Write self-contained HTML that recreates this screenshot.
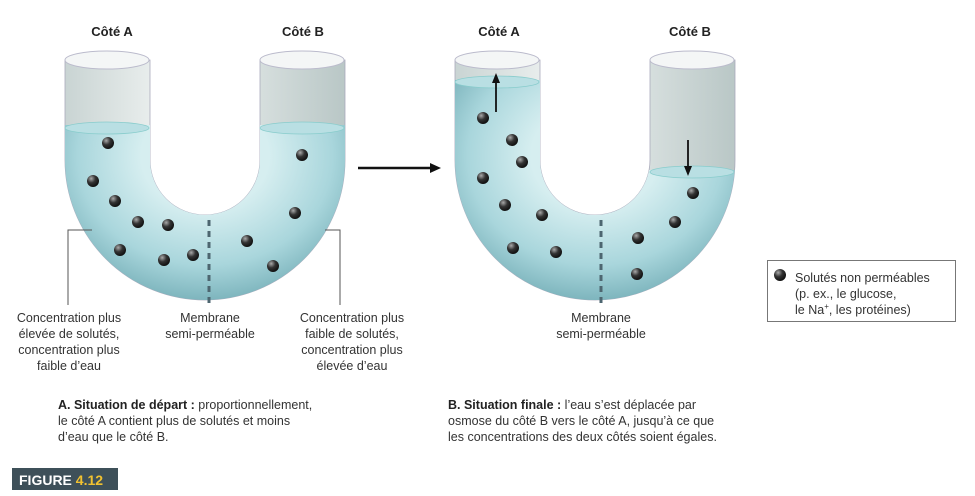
<!DOCTYPE html>
<html><head><meta charset="utf-8"><style>
body{margin:0;background:#fff;width:975px;height:491px;overflow:hidden;font-family:"Liberation Sans",sans-serif}
</style></head><body>
<svg width="975" height="491" viewBox="0 0 975 491" xmlns="http://www.w3.org/2000/svg" font-family="Liberation Sans, sans-serif">
<defs>
<linearGradient id="glass" x1="0" x2="1"><stop offset="0" stop-color="#c9d4d3"/><stop offset="0.4" stop-color="#f2f5f4"/><stop offset="1" stop-color="#b9c7c6"/></linearGradient>
<radialGradient id="water" cx="0.5" cy="0.4" r="0.65"><stop offset="0.35" stop-color="#d6eef0"/><stop offset="0.7" stop-color="#a9d6dc"/><stop offset="1" stop-color="#6faab3"/></radialGradient>
<radialGradient id="ball" cx="0.35" cy="0.3" r="0.7"><stop offset="0" stop-color="#aaa"/><stop offset="0.5" stop-color="#333"/><stop offset="1" stop-color="#111"/></radialGradient>
<clipPath id="cA"><rect x="0" y="125" width="205" height="300"/><rect x="205" y="125" width="200" height="300"/></clipPath>
<clipPath id="cB"><rect x="390" y="80" width="205" height="300"/><rect x="595" y="170" width="200" height="300"/></clipPath>
</defs>
<text x="112" y="36" font-size="13" font-weight="bold" text-anchor="middle" fill="#222">Côté A</text>
<text x="303" y="36" font-size="13" font-weight="bold" text-anchor="middle" fill="#222">Côté B</text>
<text x="499" y="36" font-size="13" font-weight="bold" text-anchor="middle" fill="#222">Côté A</text>
<text x="690" y="36" font-size="13" font-weight="bold" text-anchor="middle" fill="#222">Côté B</text>
<!-- left U -->
<path d="M65,60 V160 A140,140 0 0 0 345,160 V60 H260 V160 A55,55 0 0 1 150,160 V60 Z" fill="url(#glass)" stroke="#aab" stroke-width="0.8"/>
<ellipse cx="107" cy="60" rx="42" ry="9" fill="#f4f6f6" stroke="#bbc"/>
<ellipse cx="302" cy="60" rx="42" ry="9" fill="#f4f6f6" stroke="#bbc"/>
<path d="M65,60 V160 A140,140 0 0 0 345,160 V60 H260 V160 A55,55 0 0 1 150,160 V60 Z" fill="url(#water)" clip-path="url(#cA)"/>
<ellipse cx="107" cy="128" rx="42" ry="6" fill="#b9dfe3" stroke="#8cc" stroke-width="0.8"/>
<ellipse cx="302" cy="128" rx="42" ry="6" fill="#b9dfe3" stroke="#8cc" stroke-width="0.8"/>
<line x1="209" y1="220" x2="209" y2="305" stroke="#4d6670" stroke-width="3" stroke-dasharray="6,5"/>
<g fill="url(#ball)">
<circle cx="108" cy="143" r="6"/><circle cx="93" cy="181" r="6"/><circle cx="115" cy="201" r="6"/><circle cx="138" cy="222" r="6"/><circle cx="168" cy="225" r="6"/><circle cx="120" cy="250" r="6"/><circle cx="164" cy="260" r="6"/><circle cx="193" cy="255" r="6"/><circle cx="247" cy="241" r="6"/><circle cx="295" cy="213" r="6"/><circle cx="302" cy="155" r="6"/><circle cx="273" cy="266" r="6"/>
</g>
<polyline points="92,230 68,230 68,305" fill="none" stroke="#555" stroke-width="1"/>
<polyline points="325,230 340,230 340,305" fill="none" stroke="#555" stroke-width="1"/>
<!-- arrow -->
<line x1="358" y1="168" x2="432" y2="168" stroke="#111" stroke-width="2.5"/>
<polygon points="441,168 430,163 430,173" fill="#111"/>
<!-- right U -->
<path d="M455,60 V160 A140,140 0 0 0 735,160 V60 H650 V160 A55,55 0 0 1 540,160 V60 Z" fill="url(#glass)" stroke="#aab" stroke-width="0.8"/>
<ellipse cx="497" cy="60" rx="42" ry="9" fill="#f4f6f6" stroke="#bbc"/>
<ellipse cx="692" cy="60" rx="42" ry="9" fill="#f4f6f6" stroke="#bbc"/>
<path d="M455,60 V160 A140,140 0 0 0 735,160 V60 H650 V160 A55,55 0 0 1 540,160 V60 Z" fill="url(#water)" clip-path="url(#cB)"/>
<ellipse cx="497" cy="82" rx="42" ry="6" fill="#b9dfe3" stroke="#8cc" stroke-width="0.8"/>
<ellipse cx="692" cy="172" rx="42" ry="6" fill="#b9dfe3" stroke="#8cc" stroke-width="0.8"/>
<line x1="601" y1="220" x2="601" y2="305" stroke="#4d6670" stroke-width="3" stroke-dasharray="6,5"/>
<g fill="url(#ball)">
<circle cx="483" cy="118" r="6"/><circle cx="512" cy="140" r="6"/><circle cx="522" cy="162" r="6"/><circle cx="483" cy="178" r="6"/><circle cx="505" cy="205" r="6"/><circle cx="542" cy="215" r="6"/><circle cx="513" cy="248" r="6"/><circle cx="556" cy="252" r="6"/><circle cx="638" cy="238" r="6"/><circle cx="675" cy="222" r="6"/><circle cx="693" cy="193" r="6"/><circle cx="637" cy="274" r="6"/>
</g>
<line x1="496" y1="112" x2="496" y2="82" stroke="#111" stroke-width="1.8"/>
<polygon points="496,73 492,83 500,83" fill="#111"/>
<line x1="688" y1="140" x2="688" y2="168" stroke="#111" stroke-width="1.8"/>
<polygon points="688,176 684,166 692,166" fill="#111"/>
<!-- labels -->
<g font-size="12.5" fill="#333" text-anchor="middle">
<text x="69" y="322">Concentration plus</text><text x="69" y="338">élevée de solutés,</text><text x="69" y="354">concentration plus</text><text x="69" y="370">faible d’eau</text>
<text x="210" y="322">Membrane</text><text x="210" y="338">semi-perméable</text>
<text x="352" y="322">Concentration plus</text><text x="352" y="338">faible de solutés,</text><text x="352" y="354">concentration plus</text><text x="352" y="370">élevée d’eau</text>
<text x="601" y="322">Membrane</text><text x="601" y="338">semi-perméable</text>
</g>
<rect x="767.5" y="260.5" width="188" height="61" fill="#fff" stroke="#777"/>
<circle cx="780" cy="275" r="6" fill="url(#ball)"/>
<g font-size="12.5" fill="#333"><text x="795" y="282">Solutés non perméables</text><text x="795" y="298">(p. ex., le glucose,</text><text x="795" y="314">le Na<tspan font-size="8" dy="-5">+</tspan><tspan dy="5">, les protéines)</tspan></text></g>
<g font-size="12.5" fill="#333">
<text x="58" y="409"><tspan font-weight="bold" fill="#222">A. Situation de départ :</tspan> proportionnellement,</text>
<text x="58" y="425">le côté A contient plus de solutés et moins</text>
<text x="58" y="441">d’eau que le côté B.</text>
<text x="448" y="409"><tspan font-weight="bold" fill="#222">B. Situation finale :</tspan> l’eau s’est déplacée par</text>
<text x="448" y="425">osmose du côté B vers le côté A, jusqu’à ce que</text>
<text x="448" y="441">les concentrations des deux côtés soient égales.</text>
</g>
<rect x="12" y="468" width="106" height="22" fill="#3e5059"/>
<text x="19" y="485" font-size="14" font-weight="bold" fill="#fff">FIGURE <tspan fill="#f2c230">4.12</tspan></text>
</svg>
</body></html>
